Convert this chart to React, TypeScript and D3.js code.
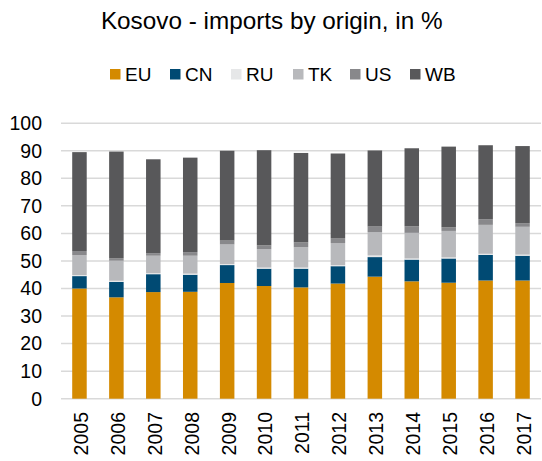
import React from 'react';
import * as d3 from 'd3';

const years = ['2005', '2006', '2007', '2008', '2009', '2010', '2011', '2012', '2013', '2014', '2015', '2016', '2017'];
const eu = [40.0, 36.8, 38.7, 38.8, 42.0, 40.9, 40.4, 41.8, 44.3, 42.6, 42.1, 42.9, 42.9];
const cn = [4.5, 5.6, 6.5, 6.2, 6.5, 6.3, 6.8, 6.3, 7.1, 7.9, 8.8, 9.3, 9.0];
const ru = [0.4, 0.4, 0.4, 0.4, 0.4, 0.4, 0.4, 0.4, 0.6, 0.4, 0.4, 0.4, 0.4];
const tk = [7.2, 7.3, 6.3, 6.5, 7.1, 6.7, 7.4, 8.0, 8.5, 9.3, 9.6, 10.5, 10.1];
const us = [1.5, 0.9, 0.9, 1.3, 1.4, 1.4, 1.8, 1.8, 2.0, 2.4, 1.3, 2.0, 1.3];
const wb = [35.9, 38.7, 34.1, 34.3, 32.6, 34.5, 32.4, 30.7, 27.6, 28.3, 29.3, 26.9, 28.0];
const yTicks = [0, 10, 20, 30, 40, 50, 60, 70, 80, 90, 100];

const series = [
  { key: 'EU', values: eu, color: '#d48a00' },
  { key: 'CN', values: cn, color: '#004a73' },
  { key: 'RU', values: ru, color: '#e6e7e8' },
  { key: 'TK', values: tk, color: '#b8b9bc' },
  { key: 'US', values: us, color: '#88888b' },
  { key: 'WB', values: wb, color: '#58585a' },
];

const W = 542;
const H = 461;
const font = 'Liberation Sans, Arial, sans-serif';

export default function App() {
  const x = d3.scaleBand().domain(years).range([61, 541]).paddingInner(0.607).paddingOuter(0.3035);
  const y = d3.scaleLinear().domain([0, 100]).range([398.7, 123.2]);

  const rows = years.map((yr, i) => {
    const r: any = { year: yr };
    series.forEach((s) => (r[s.key] = s.values[i]));
    return r;
  });
  const stacked = d3.stack().keys(series.map((s) => s.key))(rows);

  const legendX = [110, 170, 231, 293, 350, 410];

  return (
    <svg width={W} height={H} style={{ position: 'absolute', left: 0, top: 0 }} fontFamily={font}>
      <rect width={W} height={H} fill="#fff" />
      <text x={271.7} y={29.3} textAnchor="middle" fontSize={24.3} fill="#000">
        Kosovo - imports by origin, in %
      </text>
      {series.map((s, i) => (
        <g key={s.key} transform={`translate(${legendX[i]},0)`}>
          <rect x={0} y={69} width={10.5} height={10.5} fill={s.color} />
          <text x={15} y={81} fontSize={19} fill="#000">
            {s.key}
          </text>
        </g>
      ))}
      {yTicks.map((t) => (
        <g key={t}>
          <line x1={61} x2={541} y1={y(t)} y2={y(t)} stroke="#d9d9d9" strokeWidth={1.5} />
          <text x={42} y={y(t) + 6.8} textAnchor="end" fontSize={19.5} fill="#000">
            {t}
          </text>
        </g>
      ))}
      {stacked.map((layer, li) => (
        <g key={layer.key} fill={series[li].color}>
          {layer.map((d, i) => (
            <rect
              key={years[i]}
              x={x(years[i])}
              width={x.bandwidth()}
              y={y(d[1])}
              height={y(d[0]) - y(d[1])}
            />
          ))}
        </g>
      ))}
      {years.map((yr) => (
        <text
          key={yr}
          transform={`translate(${(x(yr) as number) + x.bandwidth() / 2 + 8.4},412) rotate(-90)`}
          textAnchor="end"
          fontSize={19.5}
          fill="#000"
        >
          {yr}
        </text>
      ))}
    </svg>
  );
}
